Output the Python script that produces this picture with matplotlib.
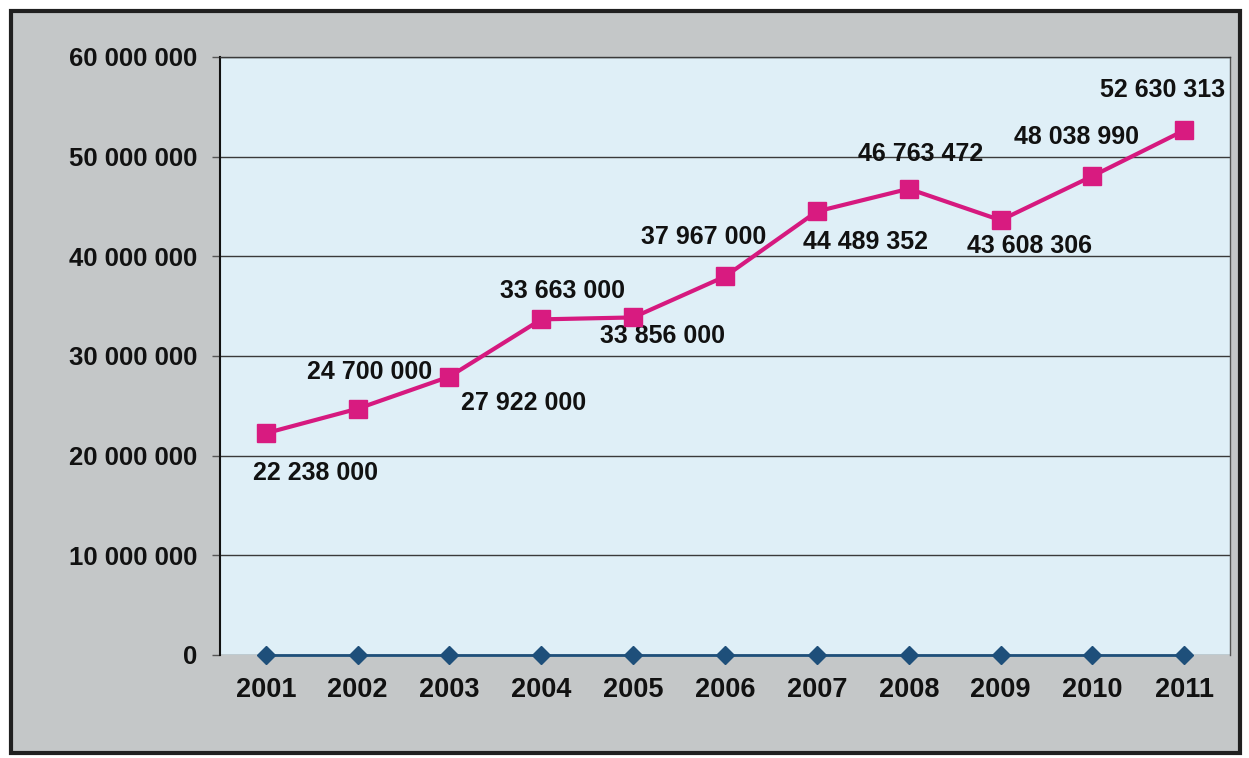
import matplotlib.pyplot as plt
from matplotlib.patches import Rectangle
from matplotlib.ticker import FuncFormatter

years = ['2001', '2002', '2003', '2004', '2005', '2006', '2007', '2008', '2009', '2010', '2011']
values = [22238000, 24700000, 27922000, 33663000, 33856000, 37967000,
          44489352, 46763472, 43608306, 48038990, 52630313]
baseline = [0, 0, 0, 0, 0, 0, 0, 0, 0, 0, 0]
yticks = [0, 10000000, 20000000, 30000000, 40000000, 50000000, 60000000]

# label offsets in pixels (dx, dy) relative to each point
label_offsets = [(50, -40), (12, 37), (74, -26), (21, 28), (29, -19), (-21, 39),
                 (49, -31), (12, 35), (29, -26), (-16, 39), (-22, 40)]


def spaced(v, pos=None):
    """Formats a number with spaces as thousands separator"""
    return f'{int(v):,}'.replace(',', ' ')


plt.rcParams['font.family'] = ['Liberation Sans', 'DejaVu Sans']

fig = plt.figure(figsize=(12.49, 7.58), dpi=100, facecolor='white')

"""Gray scanned page background with black frame"""

fig.patches.append(Rectangle((0.009, 0.007), 0.984, 0.979, transform=fig.transFigure,
                             facecolor='#c4c7c8', edgecolor='#202020', linewidth=3, zorder=-1))

ax = fig.add_axes([0.176, 0.136, 0.809, 0.789])
ax.set_facecolor('#dfeff7')

x = list(range(len(years)))

ax.plot(x, values, color='#d6197f', linewidth=3, marker='s', markersize=13,
        markerfacecolor='#d81b80', markeredgecolor='#d81b80', zorder=4, clip_on=False)
ax.plot(x, baseline, color='#1e4f7a', linewidth=2, marker='D', markersize=9,
        zorder=5, clip_on=False)

for i, v in enumerate(values):
    dx, dy = label_offsets[i]
    ax.annotate(spaced(v), (x[i], v), xytext=(dx, dy), textcoords='offset pixels',
                ha='center', va='center', fontsize=18, fontweight='bold', color='#111111')

ax.set_xlim(-0.5, len(years) - 0.5)
ax.set_ylim(0, 60000000)
ax.set_yticks(yticks)
ax.yaxis.set_major_formatter(FuncFormatter(spaced))
ax.set_xticks(x)
ax.set_xticklabels(years)

ax.tick_params(axis='y', length=6, width=1, color='#555555', pad=10,
               labelsize=18.5)
ax.tick_params(axis='x', length=0, pad=16, labelsize=19.5)
for lbl in ax.get_xticklabels() + ax.get_yticklabels():
    lbl.set_fontweight('bold')
    lbl.set_color('#111111')

ax.grid(axis='y', color='#3a3a3a', linewidth=1)
ax.set_axisbelow(True)

ax.spines['left'].set_color('#111111')
ax.spines['left'].set_linewidth(1.5)
ax.spines['bottom'].set_visible(False)
ax.spines['top'].set_color('#3a3a3a')
ax.spines['top'].set_linewidth(1)
ax.spines['right'].set_color('#555555')
ax.spines['right'].set_linewidth(1)

plt.savefig('out.png', dpi=100, facecolor='white')
plt.close()
